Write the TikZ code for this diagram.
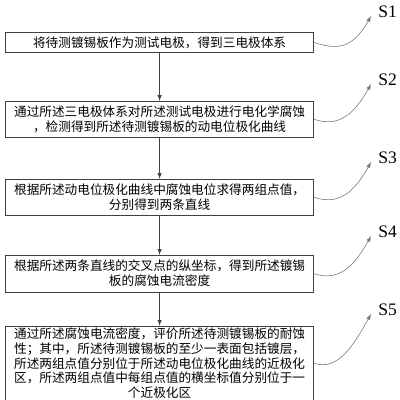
\documentclass[tikz,border=0pt]{standalone}
\usepackage{fontspec}
\setmainfont{Liberation Serif}
\newfontfamily\cjk{Noto Sans CJK SC}
\begin{document}
\begin{tikzpicture}[>=latex,
    hop/.style={draw=black!75, line width=0.5pt, text width=7.55cm, inner xsep=2pt, inner ysep=1pt, align=center, font=\cjk\fontsize{9}{10.6}\selectfont},
    nhan/.style={anchor=west, inner sep=0pt, font=\fontsize{12.5}{12.5}\selectfont},
    noi/.style={draw=black!55, line width=0.4pt}]
    \useasboundingbox (0,0) rectangle (10,-10);
    % Các bước
    \node[hop, minimum height=0.48cm] (b1) at (3.99,-1.06) {将待测镀锡板作为测试电极，得到三电极体系};
    \node[hop, minimum height=0.9cm] (b2) at (3.99,-2.98) {通过所述三电极体系对所述测试电极进行电化学腐蚀\\\mbox{，}检测得到所述待测镀锡板的动电位极化曲线};
    \node[hop, minimum height=0.9cm] (b3) at (3.99,-4.93) {根据所述动电位极化曲线中腐蚀电位求得两组点值，\\分别得到两条直线};
    \node[hop, minimum height=0.92cm] (b4) at (3.99,-6.84) {根据所述两条直线的交叉点的纵坐标，得到所述镀锡\\板的腐蚀电流密度};
    \node[hop, minimum height=1.65cm] (b5) at (3.99,-9.08) {通过所述腐蚀电流密度，评价所述待测镀锡板的耐蚀\\性；其中，所述待测镀锡板的至少一表面包括镀层，\\所述两组点值分别位于所述动电位极化曲线的近极化\\区，所述两组点值中每组点值的横坐标值分别位于一\\个近极化区};
    % Nhãn
    \node[nhan] (s1) at (9.45,-0.3) {S1};
    \node[nhan] (s2) at (9.45,-2.0) {S2};
    \node[nhan] (s3) at (9.45,-3.95) {S3};
    \node[nhan] (s4) at (9.45,-5.8) {S4};
    \node[nhan] (s5) at (9.45,-7.75) {S5};
    % Mũi tên
    \foreach \a/\b in {b1/b2, b2/b3, b3/b4, b4/b5} {
        \draw[->, black!75] (\a.south) -- (\b.north);
    }
    \foreach \i in {1,...,5} {
        \draw[noi, ->] (b\i.east) .. controls +(0.6,-0.2) and +(-0.45,-0.8) .. ([xshift=-5pt,yshift=-3pt]s\i.west);
    }
\end{tikzpicture}
\end{document}
